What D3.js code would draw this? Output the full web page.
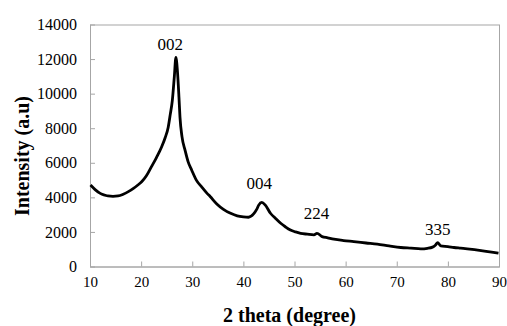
<!DOCTYPE html>
<html>
<head>
<meta charset="utf-8">
<script src="https://cdn.jsdelivr.net/npm/d3@7"></script>
<style>
  body { margin: 0; background: #fff; }
  svg text { font-family: "Liberation Serif", "Times New Roman", serif; fill: #000; }
  .axis path, .axis line { stroke: #a6a6a6; }
</style>
</head>
<body>
<svg width="507" height="326"></svg>
<script>
// XRD pattern
var twoTheta = [10.1, 11, 12, 13, 13.5, 14.5, 15.5, 16.5, 17.5, 18.5, 19.3, 20.1, 21, 22, 23, 24, 24.7, 25.3, 25.7, 26.1, 26.5, 26.8, 27.1, 27.4, 27.6, 28, 28.6, 29.2, 29.9, 30.8, 31.9, 32.9, 33.5, 34.8, 36.1, 37.5, 38.8, 40, 41, 42, 42.6, 43, 43.6, 44.3, 45.3, 46.3, 47.3, 48.2, 49.2, 50.2, 51.2, 52.5, 53.8, 54.4, 55.4, 56.5, 57.7, 59.6, 61.6, 64, 66.2, 68.5, 70.8, 72.8, 74.7, 76, 77, 77.6, 78, 78.6, 80, 81.2, 82.5, 83.8, 85.2, 86.5, 88.2, 89.9];
var intensity = [4710, 4450, 4230, 4120, 4080, 4060, 4080, 4180, 4330, 4520, 4700, 4900, 5230, 5760, 6300, 6910, 7450, 8060, 8800, 9600, 11000, 12100, 11300, 9800, 8640, 7500, 6720, 6050, 5570, 5000, 4580, 4230, 4050, 3620, 3310, 3080, 2930, 2870, 2850, 3040, 3300, 3550, 3710, 3550, 3080, 2780, 2500, 2300, 2110, 2000, 1920, 1870, 1830, 1920, 1730, 1660, 1580, 1500, 1440, 1360, 1290, 1190, 1100, 1060, 1020, 1050, 1120, 1250, 1380, 1190, 1150, 1100, 1060, 1020, 970, 920, 850, 770];

var xTicks = [10, 20, 30, 40, 50, 60, 70, 80, 90];
var yTicks = [0, 2000, 4000, 6000, 8000, 10000, 12000, 14000];

var peakLabels = ["002", "004", "224", "335"];
var peakLabelX = [25.7, 43.1, 54.3, 78.0];
var peakLabelY = [12890, 4820, 3090, 2170];

var svg = d3.select("svg"),
    margin = { top: 24.5, right: 8, bottom: 59.5, left: 90 },
    width = +svg.attr("width") - margin.left - margin.right,
    height = +svg.attr("height") - margin.top - margin.bottom;

var x = d3.scaleLinear().domain([10, 90]).range([0, width]),
    y = d3.scaleLinear().domain([0, 14000]).range([height, 0]);

var g = svg.append("g")
    .attr("transform", "translate(" + margin.left + "," + margin.top + ")");

// plot area frame
g.append("rect")
    .attr("x", 0.5).attr("y", 0.5)
    .attr("width", width).attr("height", height)
    .attr("fill", "none")
    .attr("stroke", "#a6a6a6");

g.append("g")
    .attr("class", "axis axis--x")
    .attr("transform", "translate(0," + height + ")")
    .call(d3.axisBottom(x).tickValues(xTicks).tickSizeInner(-5).tickSizeOuter(0).tickPadding(10))
    .attr("font-size", 15);

g.append("g")
    .attr("class", "axis axis--y")
    .call(d3.axisLeft(y).tickValues(yTicks).tickSizeInner(-5).tickSizeOuter(0).tickPadding(13).tickFormat(d3.format("d")))
    .attr("font-size", 16);

var points = twoTheta.map(function (d, i) { return [d, intensity[i]]; });

g.append("path")
    .datum(points)
    .attr("fill", "none")
    .attr("stroke", "#000")
    .attr("stroke-width", 2.8)
    .attr("stroke-linejoin", "round")
    .attr("d", d3.line()
        .curve(d3.curveMonotoneX)
        .x(function (d) { return x(d[0]); })
        .y(function (d) { return y(d[1]); }));

g.selectAll(".peak")
    .data(peakLabels)
    .enter().append("text")
    .attr("class", "peak")
    .attr("x", function (d, i) { return x(peakLabelX[i]); })
    .attr("y", function (d, i) { return y(peakLabelY[i]); })
    .attr("dy", "0.35em")
    .attr("text-anchor", "middle")
    .attr("font-size", 17)
    .text(function (d) { return d; });

svg.append("text")
    .attr("x", margin.left + width / 2 - 5)
    .attr("y", 322)
    .attr("text-anchor", "middle")
    .attr("font-size", 20)
    .attr("font-weight", "bold")
    .text("2 theta (degree)");

svg.append("text")
    .attr("transform", "translate(29,156) rotate(-90)")
    .attr("text-anchor", "middle")
    .attr("font-size", 20)
    .attr("font-weight", "bold")
    .text("Intensity (a.u)");
</script>
</body>
</html>
